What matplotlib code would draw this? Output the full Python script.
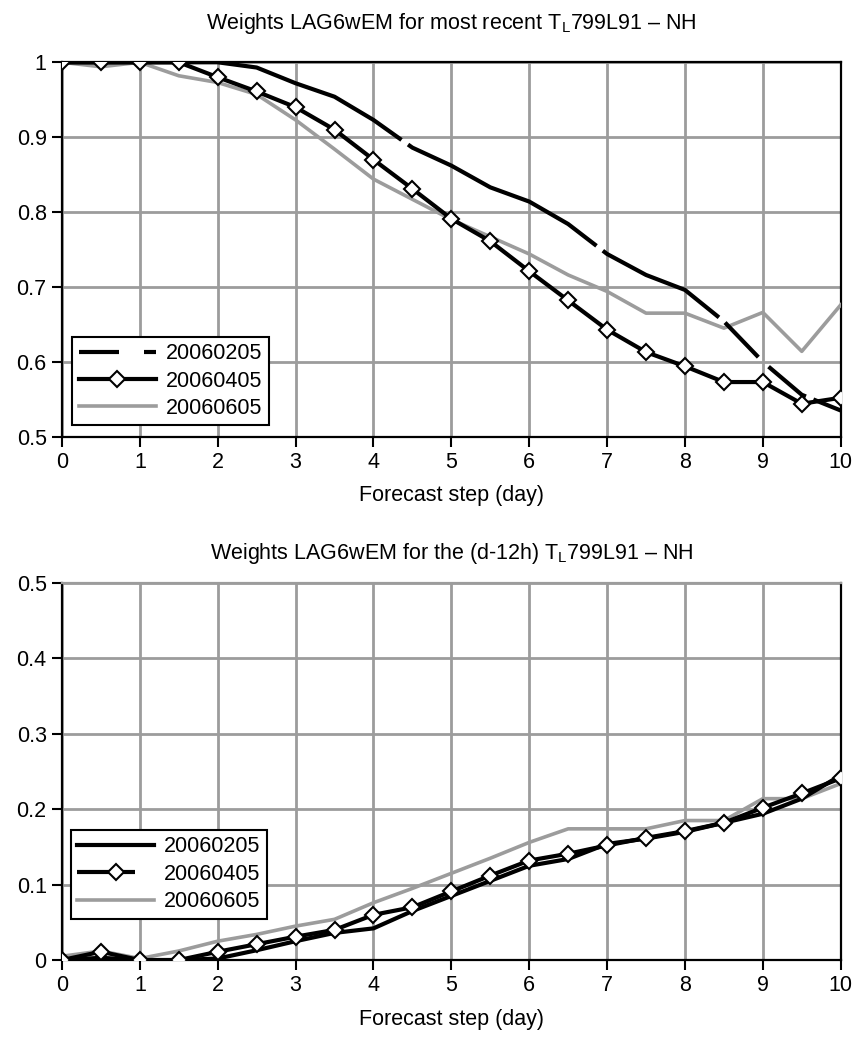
import matplotlib
matplotlib.use("Agg")
import matplotlib.pyplot as plt
from matplotlib.lines import Line2D
from matplotlib.ticker import FormatStrFormatter

plt.rcParams['font.family'] = ['Liberation Sans', 'DejaVu Sans']
plt.rcParams['mathtext.fontset'] = 'custom'
plt.rcParams['mathtext.rm'] = 'Liberation Sans'
plt.rcParams['lines.scale_dashes'] = False

# forecast steps (days), half-day resolution
steps = [0, 0.5, 1, 1.5, 2, 2.5, 3, 3.5, 4, 4.5, 5,
         5.5, 6, 6.5, 7, 7.5, 8, 8.5, 9, 9.5, 10]
labels = ['20060205', '20060405', '20060605']

# weights of the most recent member
recent_0205 = [1.0, 1.0, 1.0, 1.0, 1.0, 0.993, 0.972, 0.954, 0.923, 0.886, 0.862,
               0.833, 0.814, 0.784, 0.744, 0.716, 0.696, 0.654, 0.600, 0.556, 0.535]
recent_0405 = [1.0, 1.0, 1.0, 1.0, 0.980, 0.961, 0.940, 0.910, 0.870, 0.831, 0.791,
               0.761, 0.721, 0.682, 0.643, 0.613, 0.594, 0.573, 0.573, 0.544, 0.552]
recent_0605 = [1.0, 0.994, 1.0, 0.982, 0.973, 0.957, 0.923, 0.884, 0.844, 0.817, 0.790,
               0.767, 0.744, 0.716, 0.694, 0.665, 0.665, 0.645, 0.666, 0.614, 0.676]

# weights of the (d-12h) member
lag_0205 = [0.0, 0.003, 0.0, 0.0, 0.002, 0.013, 0.025, 0.036, 0.042, 0.065, 0.085,
            0.105, 0.125, 0.134, 0.154, 0.161, 0.170, 0.182, 0.194, 0.214, 0.245]
lag_0405 = [0.0, 0.011, 0.0, 0.0, 0.011, 0.021, 0.031, 0.040, 0.060, 0.070, 0.091,
            0.112, 0.132, 0.141, 0.152, 0.162, 0.171, 0.182, 0.202, 0.221, 0.241]
lag_0605 = [0.005, 0.012, 0.002, 0.012, 0.025, 0.034, 0.045, 0.054, 0.076, 0.095, 0.115,
            0.135, 0.156, 0.174, 0.174, 0.174, 0.185, 0.185, 0.214, 0.214, 0.234]

px = 0.72  # pixel -> point at 100 dpi
grey = '#9c9c9c'
black_lw = 3.0
grey_lw = 2.6
fs = 15.5
diamond = dict(marker='D', markersize=8.5, markerfacecolor='white',
               markeredgecolor='black', markeredgewidth=1.5)

fig = plt.figure(figsize=(8.57, 10.45), dpi=100)
ax_top = fig.add_axes([0.0723, 0.5821, 0.9087, 0.3583])
ax_bot = fig.add_axes([0.0723, 0.0813, 0.9087, 0.3608])


def style_axes(ax, ylim, yticks):
    ax.set_xlim(0, 10)
    ax.set_ylim(*ylim)
    ax.set_xticks(range(0, 11))
    ax.set_yticks(yticks)
    ax.yaxis.set_major_formatter(FormatStrFormatter('%g'))
    ax.grid(True, color=grey, linewidth=2.0)
    ax.set_axisbelow(True)
    for side in ['left', 'bottom', 'right', 'top']:
        ax.spines[side].set_color('black')
        ax.spines[side].set_linewidth(1.6)
    ax.tick_params(direction='out', length=7, width=1.5, labelsize=fs,
                   pad=4, colors='black')
    ax.set_xlabel('Forecast step (day)', fontsize=fs, labelpad=9)


def add_legend(ax, handles, anchor):
    leg = ax.legend(handles, labels, loc='lower left', bbox_to_anchor=anchor,
                    fontsize=fs, handlelength=3.6, handletextpad=0.45, labelspacing=0.3,
                    borderpad=0.3, borderaxespad=0.0, fancybox=False, framealpha=1,
                    edgecolor='black')
    leg.get_frame().set_linewidth(1.5)


# top panel
style_axes(ax_top, (0.5, 1.0), [0.5, 0.6, 0.7, 0.8, 0.9, 1.0])
ax_top.plot(steps, recent_0605, color=grey, lw=grey_lw, zorder=3)
ax_top.plot(steps, recent_0205, color='black', lw=black_lw, zorder=4,
            dashes=(358 * px, 8 * px, 215 * px, 8 * px, 135 * px, 8 * px,
                    48 * px, 14 * px, 48 * px, 8 * px, 200 * px, 8 * px))
ax_top.plot(steps, recent_0405, color='black', lw=black_lw, zorder=5, **diamond)
ax_top.set_title(r'Weights LAG6wEM for most recent T$_\mathrm{L}$799L91 – NH',
                 fontsize=fs, pad=24)

add_legend(ax_top, [
    Line2D([], [], color='black', lw=black_lw, dashes=(40 * px, 25 * px, 12 * px, 30 * px)),
    Line2D([], [], color='black', lw=black_lw, **diamond),
    Line2D([], [], color=grey, lw=grey_lw),
], (0.013, 0.03))

# bottom panel
style_axes(ax_bot, (0.0, 0.5), [0.0, 0.1, 0.2, 0.3, 0.4, 0.5])
ax_bot.spines['top'].set_color(grey)
ax_bot.plot(steps, lag_0605, color=grey, lw=grey_lw, zorder=3)
ax_bot.plot(steps, lag_0205, color='black', lw=black_lw, zorder=4)
ax_bot.plot(steps, lag_0405, color='black', lw=black_lw, zorder=5, **diamond)
ax_bot.set_title(r'Weights LAG6wEM for the (d-12h) T$_\mathrm{L}$799L91 – NH',
                 fontsize=fs, pad=17)

add_legend(ax_bot, [
    Line2D([], [], color='black', lw=black_lw),
    Line2D([], [], color='black', lw=black_lw, dashes=(58 * px, 20 * px, 12 * px, 20 * px),
           **diamond),
    Line2D([], [], color=grey, lw=grey_lw),
], (0.011, 0.11))

fig.savefig('out.png', dpi=100)
